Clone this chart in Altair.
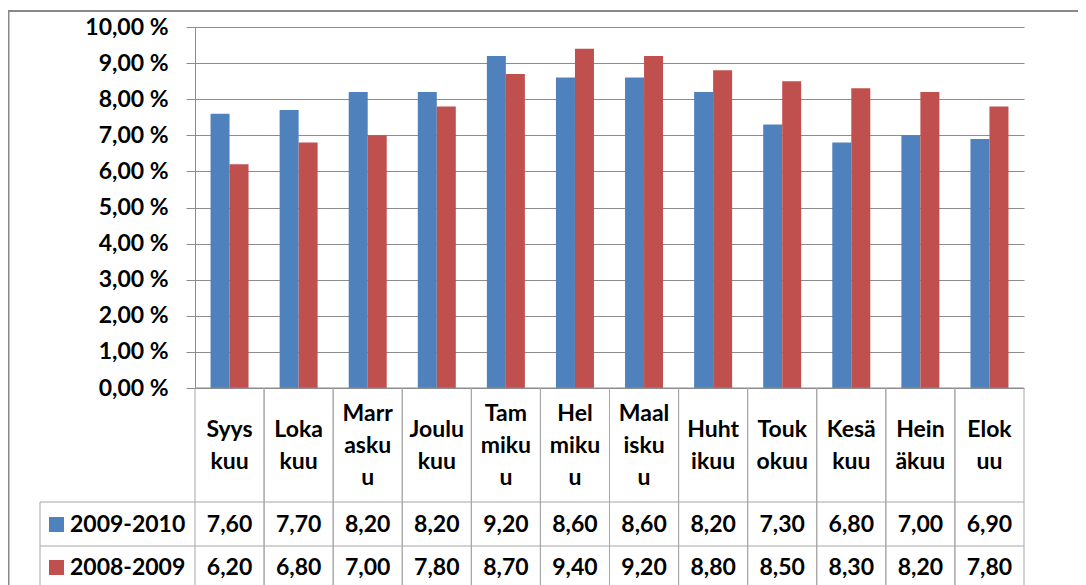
import altair as alt
import pandas as pd

# ---- data ----
months = ["Syys\nkuu", "Loka\nkuu", "Marr\nasku\nu", "Joulu\nkuu", "Tam\nmiku\nu",
          "Hel\nmiku\nu", "Maal\nisku\nu", "Huht\nikuu", "Touk\nokuu", "Kesä\nkuu",
          "Hein\näkuu", "Elok\nuu"]
series = ["2009-2010", "2008-2009"]
values_2009_2010 = [7.60, 7.70, 8.20, 8.20, 9.20, 8.60, 8.60, 8.20, 7.30, 6.80, 7.00, 6.90]
values_2008_2009 = [6.20, 6.80, 7.00, 7.80, 8.70, 9.40, 9.20, 8.80, 8.50, 8.30, 8.20, 7.80]
y_ticks = [0, 1, 2, 3, 4, 5, 6, 7, 8, 9, 10]
colors = ["#4F81BD", "#C0504D"]

rows = []
for s, vals in zip(series, [values_2009_2010, values_2008_2009]):
    for m, v in zip(months, vals):
        rows.append({"month": m, "series": s, "value": v})
df = pd.DataFrame(rows)
month_df = pd.DataFrame({"month": months})
series_df = pd.DataFrame({"series": series})
one = pd.DataFrame({"a": [0]})

FONT = "Lato"
FS = 23
GRID = "#8c8c8c"
LINE = "#a6a6a6"
LH = 32

W, H = 829, 361

xcat = alt.X("month:N", sort=months, scale=alt.Scale(paddingInner=0, paddingOuter=0), axis=None)
color = alt.Color("series:N", scale=alt.Scale(domain=series, range=colors), legend=None)
row_y = alt.Y("series:N", scale=alt.Scale(domain=series, range=[497.5, 540.5], padding=0), axis=None)

frame = alt.Chart(one).mark_rect(fill=None, stroke="#898989", strokeWidth=2).encode(
    x=alt.value(-186.5), x2=alt.value(900), y=alt.value(-16), y2=alt.value(620)
)

bars = alt.Chart(df).mark_bar().encode(
    x=xcat,
    xOffset=alt.XOffset("series:N", sort=series,
                        scale=alt.Scale(domain=series, paddingInner=0, paddingOuter=0.818)),
    y=alt.Y("value:Q", scale=alt.Scale(domain=[0, 10], nice=False),
            axis=alt.Axis(values=y_ticks, title=None, grid=True, gridColor=GRID, gridWidth=1,
                          domainColor=GRID, tickColor=GRID, tickSize=9, labelPadding=18,
                          labelFont=FONT, labelFontSize=FS, labelFontWeight="bold",
                          labelColor="#000000",
                          labelExpr="replace(format(datum.value, '.2f'), '.', ',') + ' %'")),
    color=color,
)

zero_line = alt.Chart(one).mark_rule(color=GRID, strokeWidth=1).encode(
    x=alt.value(0), x2=alt.value(W), y=alt.value(H)
)
row_line1 = alt.Chart(one).mark_rule(color=LINE, strokeWidth=1).encode(
    x=alt.value(-155), x2=alt.value(W), y=alt.value(475)
)
row_line2 = alt.Chart(one).mark_rule(color=LINE, strokeWidth=1).encode(
    x=alt.value(-155), x2=alt.value(W), y=alt.value(519)
)
left_col = alt.Chart(one).mark_rule(color=LINE, strokeWidth=1).encode(
    x=alt.value(-155), y=alt.value(475), y2=alt.value(620)
)
vlines_start = alt.Chart(month_df).mark_rule(color=LINE, strokeWidth=1).encode(
    x=alt.X("month:N", sort=months, bandPosition=0, axis=None), y=alt.value(H), y2=alt.value(620)
)
vlines_end = alt.Chart(month_df).mark_rule(color=LINE, strokeWidth=1).encode(
    x=alt.X("month:N", sort=months, bandPosition=1, axis=None), y=alt.value(H), y2=alt.value(620)
)


def header_layer(n_lines):
    return alt.Chart(month_df).transform_calculate(
        n="length(split(datum.month, '\\n'))"
    ).transform_filter(f"datum.n == {n_lines}").mark_text(
        lineBreak="\n", lineHeight=LH, font=FONT, fontSize=FS, fontWeight="bold",
        baseline="middle", align="center", color="#000000", dy=-(n_lines - 1) * LH / 2
    ).encode(x=alt.X("month:N", sort=months, axis=None), y=alt.value(419), text="month:N")


header2 = header_layer(2)
header3 = header_layer(3)

cells = alt.Chart(df).transform_calculate(
    label="replace(format(datum.value, '.2f'), '.', ',')"
).mark_text(font=FONT, fontSize=FS, fontWeight="bold", baseline="middle", align="center",
            color="#000000").encode(
    x=alt.X("month:N", sort=months, axis=None), y=row_y, text="label:N"
)

legend_sq = alt.Chart(series_df).mark_square(size=225, opacity=1).encode(
    x=alt.value(-138.5), y=row_y, color=color
)
legend_txt = alt.Chart(series_df).mark_text(
    font=FONT, fontSize=FS, fontWeight="bold", baseline="middle", align="left", color="#000000"
).encode(x=alt.value(-125), y=row_y, text="series:N")

chart = alt.layer(
    frame, bars, zero_line, row_line1, row_line2, left_col, vlines_start, vlines_end,
    header2, header3, cells, legend_sq, legend_txt
).resolve_scale(y="independent").properties(
    width=W, height=H, autosize="none",
    padding={"left": 187, "top": 19, "right": 54, "bottom": 197},
).configure_view(stroke=None)

chart.save("out.html", embed_options={"renderer": "svg", "actions": False})
